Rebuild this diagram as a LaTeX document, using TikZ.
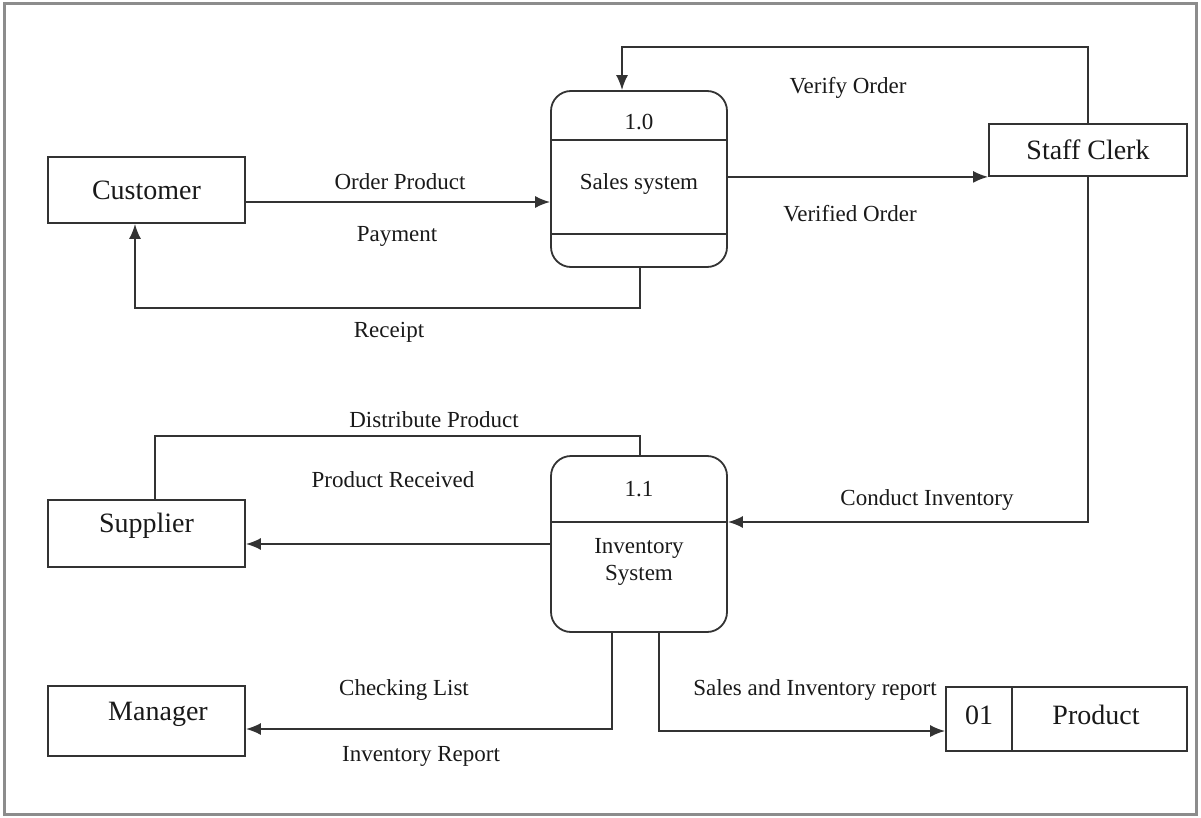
\documentclass[tikz,border=0pt]{standalone}
\usepackage{fontspec}
\setmainfont{Liberation Serif}
\usetikzlibrary{arrows.meta}
\tikzset{
  ln/.style={line width=1.8pt, draw=black!80},
  arr/.style={ln, -{Latex[length=15pt,width=12pt]}},
  ent/.style={draw=black!80, line width=1.8pt, rectangle, inner sep=0pt, font=\fontsize{28}{30}\selectfont, text=black!90},
  proc/.style={draw=black!80, line width=1.8pt, rectangle, rounded corners=20pt, minimum width=176pt, minimum height=176pt, inner sep=0pt},
  lbl/.style={font=\fontsize{23}{25}\selectfont, text=black!90, inner sep=0pt},
  ptxt/.style={font=\fontsize{23}{25}\selectfont, text=black!90, inner sep=0pt, align=center}
}
\begin{document}
\begin{tikzpicture}[x=1pt,y=-1pt]
\useasboundingbox (0,0) rectangle (1201,818);
\draw[line width=3pt, draw=black!45] (4,4) rectangle (1196,814);

% entities
\node[ent, minimum width=197pt, minimum height=66pt] (cust) at (146.5,190) {Customer};
\node[ent, minimum width=198pt, minimum height=52pt] (clerk) at (1088,150) {Staff Clerk};
\node[ent, minimum width=197pt, minimum height=67pt] (sup) at (146.5,533.5) {};
\node[lbl, font=\fontsize{28}{30}\selectfont] (suptxt) at (146.5,526) {Supplier};
\node[ent, minimum width=197pt, minimum height=70pt] (man) at (146.5,721) {};
\node[lbl, font=\fontsize{28}{30}\selectfont] (mantxt) at (158,714) {Manager};

% data store
\node[ent, minimum width=241pt, minimum height=64pt] (prod) at (1066.5,719) {};
\draw[ln] (1012,687) -- (1012,751);
\node[lbl, font=\fontsize{28}{30}\selectfont] (pnum) at (979,715) {01};
\node[lbl, font=\fontsize{28}{30}\selectfont] (pname) at (1096,715) {Product};

% processes
\node[proc] (sales) at (639,179) {};
\draw[ln] (551,140) -- (727,140);
\draw[ln] (551,234) -- (727,234);
\node[ptxt] (sid) at (639,122) {1.0};
\node[ptxt] (sname) at (639,184) {Sales system};

\node[proc] (inv) at (639,544) {};
\draw[ln] (551,522) -- (727,522);
\node[ptxt] (iid) at (639,489) {1.1};
\node[ptxt] (iname) at (639,562) {Inventory\\[2pt]System};

% connectors
\draw[arr] (cust.east |- 0,202) -- (sales.west |- 0,202);
\draw[arr] (sales.east |- clerk.south west) -- (clerk.south west);
\draw[arr] (clerk.north) |- (622,47) -- (sales.north -| 622,0);
\draw[arr] (sales.south -| 640,0) |- (135,308) -- (cust.south -| 135,0);
\draw[arr] (clerk.south) |- (inv.east |- 0,522);
\draw[ln] (sup.north -| 155,0) |- (640,436) -- (inv.north -| 640,0);
\draw[arr] (inv.west) -- (sup.east |- inv.west);
\draw[arr] (inv.south -| 612,0) |- (man.east |- 0,729);
\draw[arr] (inv.south -| 659,0) |- (prod.west |- 0,731);

% labels
\node[lbl] (l1) at (848,88) {Verify Order};
\node[lbl] (l2) at (850,214) {Verified Order};
\node[lbl] (l3) at (400,182) {Order Product};
\node[lbl] (l4) at (397,236) {Payment};
\node[lbl] (l5) at (389,332) {Receipt};
\node[lbl] (l6) at (434,420) {Distribute Product};
\node[lbl] (l7) at (393,480) {Product Received};
\node[lbl] (l8) at (927,500) {Conduct Inventory};
\node[lbl] (l9) at (404,690) {Checking List};
\node[lbl] (l10) at (421,756) {Inventory Report};
\node[lbl] (l11) at (815,690) {Sales and Inventory report};
\end{tikzpicture}
\end{document}
